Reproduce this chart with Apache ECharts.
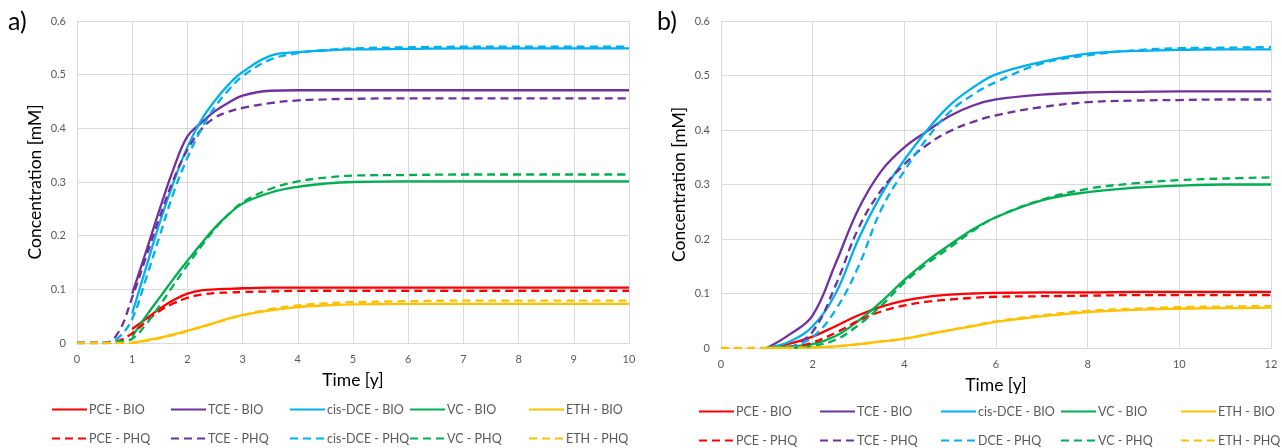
<!DOCTYPE html>
<html>
<head>
<meta charset="utf-8">
<script src="https://cdn.jsdelivr.net/npm/echarts@6/dist/echarts.min.js"></script>
<style>
  html, body { margin: 0; padding: 0; background: #fff; }
  #chart { width: 1282px; height: 448px; }
</style>
</head>
<body>
<div id="chart"></div>
<script>
// panel a) time axis [y]
const timeA = [0, 0.25, 0.5, 0.75, 1, 1.25, 1.5, 1.75, 2, 2.25, 2.5, 2.75, 3, 3.5, 4, 4.5, 5, 6, 7, 8, 9, 10]
const pceBioA = [null, null, null, null, 0.026, 0.045, 0.064, 0.08, 0.092, 0.098, 0.1, 0.101, 0.102, 0.103, 0.103, 0.103, 0.103, 0.103, 0.103, 0.103, 0.103, 0.103]
const tceBioA = [null, null, null, null, 0.092, 0.17, 0.25, 0.325, 0.385, 0.41, 0.432, 0.448, 0.461, 0.47, 0.471, 0.471, 0.471, 0.471, 0.471, 0.471, 0.471, 0.471]
const dceBioA = [null, null, null, null, 0.055, 0.14, 0.225, 0.3, 0.365, 0.415, 0.452, 0.482, 0.505, 0.535, 0.542, 0.545, 0.547, 0.548, 0.549, 0.549, 0.549, 0.549]
const vcBioA = [null, null, null, null, 0.012, 0.05, 0.085, 0.12, 0.153, 0.185, 0.215, 0.24, 0.26, 0.28, 0.291, 0.297, 0.3, 0.301, 0.301, 0.301, 0.301, 0.301]
const ethBioA = [null, null, null, null, 0, 0.005, 0.01, 0.016, 0.023, 0.03, 0.038, 0.046, 0.052, 0.061, 0.067, 0.07, 0.072, 0.073, 0.073, 0.073, 0.073, 0.073]
const pcePhqA = [0, 0, 0, 0.004, 0.018, 0.04, 0.06, 0.074, 0.084, 0.09, 0.093, 0.094, 0.095, 0.096, 0.097, 0.097, 0.097, 0.097, 0.097, 0.097, 0.097, 0.097]
const tcePhqA = [0, 0, 0, 0.02, 0.085, 0.16, 0.235, 0.305, 0.36, 0.398, 0.42, 0.431, 0.438, 0.447, 0.452, 0.454, 0.455, 0.456, 0.456, 0.456, 0.456, 0.456]
const dcePhqA = [0, 0, 0, 0.01, 0.045, 0.12, 0.2, 0.28, 0.345, 0.398, 0.44, 0.472, 0.497, 0.528, 0.54, 0.546, 0.549, 0.551, 0.552, 0.552, 0.552, 0.552]
const vcPhqA = [0, 0, 0, 0.003, 0.008, 0.035, 0.07, 0.108, 0.145, 0.18, 0.213, 0.24, 0.262, 0.287, 0.301, 0.308, 0.312, 0.313, 0.314, 0.314, 0.314, 0.314]
const ethPhqA = [0, 0, 0, 0, 0, 0.004, 0.009, 0.015, 0.022, 0.03, 0.037, 0.045, 0.052, 0.063, 0.07, 0.074, 0.076, 0.078, 0.079, 0.079, 0.079, 0.079]

// panel b) time axis [y]
const timeB = [0, 0.5, 1, 1.5, 2, 2.5, 3, 3.5, 4, 4.5, 5, 5.5, 6, 7, 8, 9, 10, 11, 12]
const pceBioB = [null, null, 0, 0.008, 0.021, 0.04, 0.06, 0.076, 0.087, 0.094, 0.098, 0.1, 0.101, 0.102, 0.102, 0.103, 0.103, 0.103, 0.103]
const tceBioB = [null, null, 0, 0.025, 0.06, 0.155, 0.255, 0.325, 0.368, 0.398, 0.426, 0.445, 0.456, 0.465, 0.469, 0.47, 0.471, 0.471, 0.471]
const dceBioB = [null, null, 0, 0.012, 0.04, 0.1, 0.2, 0.282, 0.345, 0.4, 0.446, 0.478, 0.502, 0.525, 0.54, 0.545, 0.547, 0.548, 0.548]
const vcBioB = [null, null, 0, 0.003, 0.007, 0.022, 0.05, 0.085, 0.125, 0.16, 0.19, 0.218, 0.24, 0.271, 0.286, 0.294, 0.298, 0.3, 0.3]
const ethBioB = [null, null, 0, 0, 0.001, 0.003, 0.007, 0.012, 0.017, 0.025, 0.033, 0.04, 0.048, 0.058, 0.066, 0.07, 0.072, 0.073, 0.074]
const pcePhqB = [null, null, null, 0, 0.01, 0.028, 0.05, 0.067, 0.078, 0.085, 0.089, 0.092, 0.094, 0.095, 0.096, 0.097, 0.097, 0.097, 0.097]
const tcePhqB = [null, null, null, 0, 0.03, 0.115, 0.22, 0.29, 0.337, 0.373, 0.398, 0.415, 0.427, 0.442, 0.451, 0.454, 0.455, 0.456, 0.456]
const dcePhqB = [null, null, null, 0, 0.02, 0.07, 0.15, 0.255, 0.325, 0.385, 0.434, 0.465, 0.488, 0.522, 0.537, 0.546, 0.55, 0.551, 0.552]
const vcPhqB = [null, null, null, 0, 0.004, 0.015, 0.042, 0.078, 0.12, 0.155, 0.185, 0.215, 0.24, 0.272, 0.292, 0.302, 0.308, 0.311, 0.313]
const ethPhqB = [0, 0, 0, 0, 0.001, 0.003, 0.007, 0.012, 0.017, 0.025, 0.033, 0.041, 0.049, 0.06, 0.068, 0.072, 0.075, 0.076, 0.077]

const yTicks = { min: 0, max: 0.6, interval: 0.1 }
const FONT = 'Lato'
const colors = { pce: '#FF0000', tce: '#7030A0', dce: '#00B0F0', vc: '#00B050', eth: '#FFC000' }

function line(name, times, values, color, dashed, idx) {
  return {
    name: name,
    type: 'line',
    xAxisIndex: idx,
    yAxisIndex: idx,
    data: times.map((t, i) => [t, values[i] === null ? '-' : values[i]]),
    symbol: 'none',
    smooth: 0.4,
    lineStyle: { color: color, width: 2.3, type: dashed ? [8, 5] : 'solid' },
    itemStyle: { color: color },
    animation: false
  }
}

const series = [
  line('PCE - BIO', timeA, pceBioA, colors.pce, false, 0),
  line('TCE - BIO', timeA, tceBioA, colors.tce, false, 0),
  line('cis-DCE - BIO', timeA, dceBioA, colors.dce, false, 0),
  line('VC - BIO', timeA, vcBioA, colors.vc, false, 0),
  line('ETH - BIO', timeA, ethBioA, colors.eth, false, 0),
  line('PCE - PHQ', timeA, pcePhqA, colors.pce, true, 0),
  line('TCE - PHQ', timeA, tcePhqA, colors.tce, true, 0),
  line('cis-DCE - PHQ', timeA, dcePhqA, colors.dce, true, 0),
  line('VC - PHQ', timeA, vcPhqA, colors.vc, true, 0),
  line('ETH - PHQ', timeA, ethPhqA, colors.eth, true, 0),
  line('PCE - BIO', timeB, pceBioB, colors.pce, false, 1),
  line('TCE - BIO', timeB, tceBioB, colors.tce, false, 1),
  line('cis-DCE - BIO', timeB, dceBioB, colors.dce, false, 1),
  line('VC - BIO', timeB, vcBioB, colors.vc, false, 1),
  line('ETH - BIO', timeB, ethBioB, colors.eth, false, 1),
  line('PCE - PHQ', timeB, pcePhqB, colors.pce, true, 1),
  line('TCE - PHQ', timeB, tcePhqB, colors.tce, true, 1),
  line('DCE - PHQ', timeB, dcePhqB, colors.dce, true, 1),
  line('VC - PHQ', timeB, vcPhqB, colors.vc, true, 1),
  line('ETH - PHQ', timeB, ethPhqB, colors.eth, true, 1)
]

// legend columns (x of line start) and rows, one legend per item
const legendColsA = [51, 170, 289, 409, 528]
const legendColsB = [698, 819, 940, 1060, 1180]
const legendRowsA = [403, 432]
const legendRowsB = [405, 434]
const legends = []
function addLegends(names, cols, rows) {
  names.forEach((n, i) => {
    legends.push({
      data: [n],
      left: cols[i % 5],
      top: rows[Math.floor(i / 5)],
      padding: 0,
      itemWidth: 35,
      itemHeight: 14,
      itemGap: 0,
      itemStyle: { opacity: 0 },
      textStyle: { fontFamily: FONT, fontSize: 12.5, color: '#595959', padding: [0, 0, 0, -3] },
      selectedMode: false
    })
  })
}
addLegends(series.slice(0, 10).map(s => s.name), legendColsA, legendRowsA)
addLegends(series.slice(10).map(s => s.name), legendColsB, legendRowsB)

const axisLabel = { fontFamily: FONT, fontSize: 11, color: '#595959' }
const gridLine = { lineStyle: { color: '#d9d9d9', width: 1 } }
const nameStyle = { fontFamily: FONT, fontSize: 17.5, color: '#000' }

function xAxis(idx, max, interval) {
  return {
    type: 'value', gridIndex: idx, min: 0, max: max, interval: interval,
    name: 'Time [y]', nameLocation: 'middle', nameGap: 28, nameTextStyle: nameStyle,
    axisLine: { lineStyle: { color: '#d9d9d9' } },
    axisTick: { show: false },
    axisLabel: Object.assign({ margin: 11 }, axisLabel),
    splitLine: gridLine
  }
}
function yAxis(idx) {
  return {
    type: 'value', gridIndex: idx, min: yTicks.min, max: yTicks.max, interval: yTicks.interval,
    name: 'Concentration [mM]', nameLocation: 'middle', nameGap: 33, nameTextStyle: nameStyle,
    axisLine: { show: true, lineStyle: { color: '#d9d9d9' } },
    axisTick: { show: false },
    axisLabel: Object.assign({ margin: 11 }, axisLabel),
    splitLine: gridLine
  }
}

const chart = echarts.init(document.getElementById('chart'))
chart.setOption({
  backgroundColor: '#fff',
  animation: false,
  textStyle: { fontFamily: FONT },
  grid: [
    { left: 77, top: 21, width: 552, height: 322 },
    { left: 721, top: 21, width: 550, height: 327 }
  ],
  xAxis: [xAxis(0, 10, 1), xAxis(1, 12, 2)],
  yAxis: [yAxis(0), yAxis(1)],
  legend: legends,
  graphic: [
    { type: 'text', left: 8, top: 9, style: { text: 'a)', fontFamily: FONT, fontSize: 25, fill: '#000' } },
    { type: 'text', left: 657, top: 9, style: { text: 'b)', fontFamily: FONT, fontSize: 25, fill: '#000' } }
  ],
  series: series
})
</script>
</body>
</html>
